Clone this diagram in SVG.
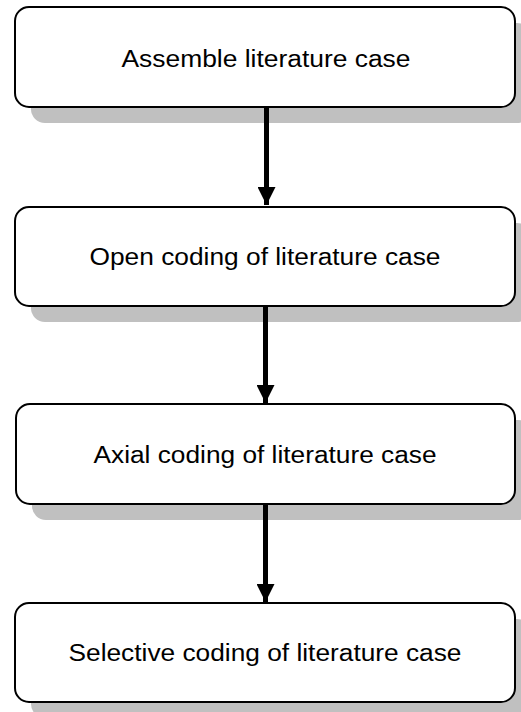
<svg xmlns="http://www.w3.org/2000/svg" width="521" height="712" viewBox="0 0 521 712">
<style>
.shadow{fill:#c0c0c0;stroke:none}
.box{fill:#ffffff;stroke:#000000;stroke-width:2}
.lbl{font-family:"Liberation Sans",Arial,sans-serif;font-size:23px;fill:#000000;text-anchor:middle}
.conn{stroke:#000000;stroke-width:5;fill:none}
</style>
<defs>
<marker id="ah" markerUnits="userSpaceOnUse" markerWidth="18" markerHeight="18" refX="18" refY="9" orient="auto" viewBox="0 0 18 18">
<path d="M0,0 L18,9 L0,18 Z" fill="#000000"/>
</marker>
</defs>
<g id="n1">
<rect class="shadow" x="31" y="23" width="500" height="100" rx="14"/>
<rect class="box" x="15" y="7" width="500" height="100" rx="14"/>
<text class="lbl" x="266" y="66.5" textLength="289" lengthAdjust="spacingAndGlyphs">Assemble literature case</text>
</g>
<g id="n2">
<rect class="shadow" x="31" y="223" width="500" height="99" rx="14"/>
<rect class="box" x="15" y="207" width="500" height="99" rx="14"/>
<text class="lbl" x="265" y="265" textLength="351" lengthAdjust="spacingAndGlyphs">Open coding of literature case</text>
</g>
<g id="n3">
<rect class="shadow" x="32" y="420" width="500" height="100" rx="14"/>
<rect class="box" x="16" y="404" width="499" height="100" rx="14"/>
<text class="lbl" x="265" y="462.5" textLength="343" lengthAdjust="spacingAndGlyphs">Axial coding of literature case</text>
</g>
<g id="n4">
<rect class="shadow" x="31" y="619" width="500" height="99" rx="14"/>
<rect class="box" x="15" y="603" width="500" height="99" rx="14"/>
<text class="lbl" x="265" y="661" textLength="393" lengthAdjust="spacingAndGlyphs">Selective coding of literature case</text>
</g>
<g id="connectors">
<line class="conn" x1="266.5" y1="108" x2="266.5" y2="205" marker-end="url(#ah)"/>
<line class="conn" x1="265.5" y1="307" x2="265.5" y2="403" marker-end="url(#ah)"/>
<line class="conn" x1="265.5" y1="505" x2="265.5" y2="602" marker-end="url(#ah)"/>
</g>
</svg>
